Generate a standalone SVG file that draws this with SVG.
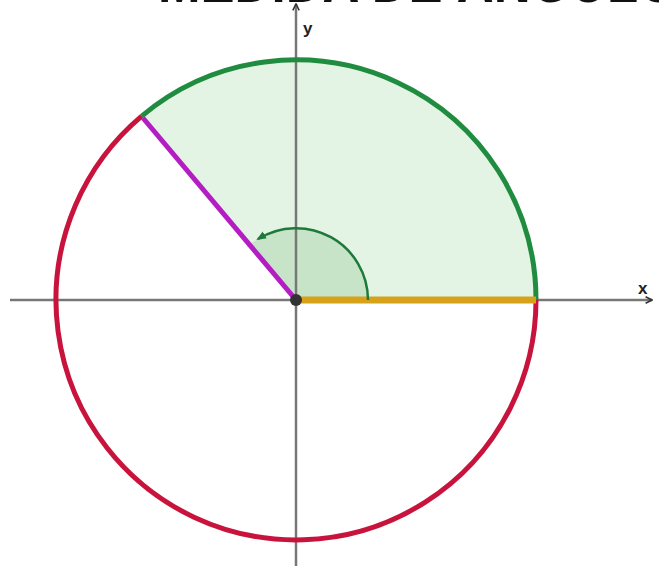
<svg xmlns="http://www.w3.org/2000/svg" width="659" height="570" viewBox="0 0 659 570">
<style>
.axis{stroke:#777;stroke-width:2.5;fill:none}
.lbl{font-family:"Liberation Sans",Arial,sans-serif;font-weight:bold;font-size:17px;fill:#222}
.title{font-family:"Liberation Sans",Arial,sans-serif;font-weight:bold;font-size:64px;fill:#111}
</style>
<defs>
<marker id="ah" viewBox="0 0 10 10" refX="9" refY="5" markerWidth="8" markerHeight="8" orient="auto" markerUnits="userSpaceOnUse">
<path d="M1,1 L9,5 L1,9" fill="none" stroke="#333" stroke-width="2"/>
</marker>
<marker id="ag" viewBox="0 0 10 10" refX="8" refY="5" markerWidth="10" markerHeight="10" orient="auto" markerUnits="userSpaceOnUse">
<path d="M0,1 L10,5 L0,9 Z" fill="#1e7a3a"/>
</marker>
</defs>
<rect width="659" height="570" fill="#fff"/>
<text class="title" x="158" y="2" textLength="520" lengthAdjust="spacingAndGlyphs">MEDIDA DE ÂNGULO</text>
<g id="sector">
<path d="M296,300 L536,300 A240,240 0 0 0 141.7,116.1 Z" fill="#e4f4e4"/>
<path d="M296,300 L368,300 A72,72 0 0 0 249.7,244.8 Z" fill="#c8e4c8"/>
</g>
<g id="connectors">
<line class="axis" x1="10" y1="300" x2="652" y2="300" marker-end="url(#ah)"/>
<line class="axis" x1="296" y1="566" x2="296" y2="4" stroke="#555" marker-end="url(#ah)"/>
</g>
<g id="circle">
<path d="M536,300 A240,240 0 0 0 141.7,116.1" fill="none" stroke="#1f8c40" stroke-width="5"/>
<path d="M141.7,116.1 A240,240 0 1 0 536,300" fill="none" stroke="#c8143c" stroke-width="5"/>
</g>
<g id="radius">
<line x1="296" y1="300" x2="536" y2="300" stroke="#d6a21a" stroke-width="7"/>
<line x1="296" y1="300" x2="143" y2="118" stroke="#b41cc4" stroke-width="5"/>
</g>
<g id="angle">
<path d="M368,300 A72,72 0 0 0 258,239" fill="none" stroke="#1e7a3a" stroke-width="2.5" marker-end="url(#ag)"/>
</g>
<g id="origin"><circle cx="296" cy="300" r="6" fill="#333"/></g>
<text class="lbl" x="303" y="34">y</text>
<text class="lbl" x="638" y="294">x</text>
</svg>
